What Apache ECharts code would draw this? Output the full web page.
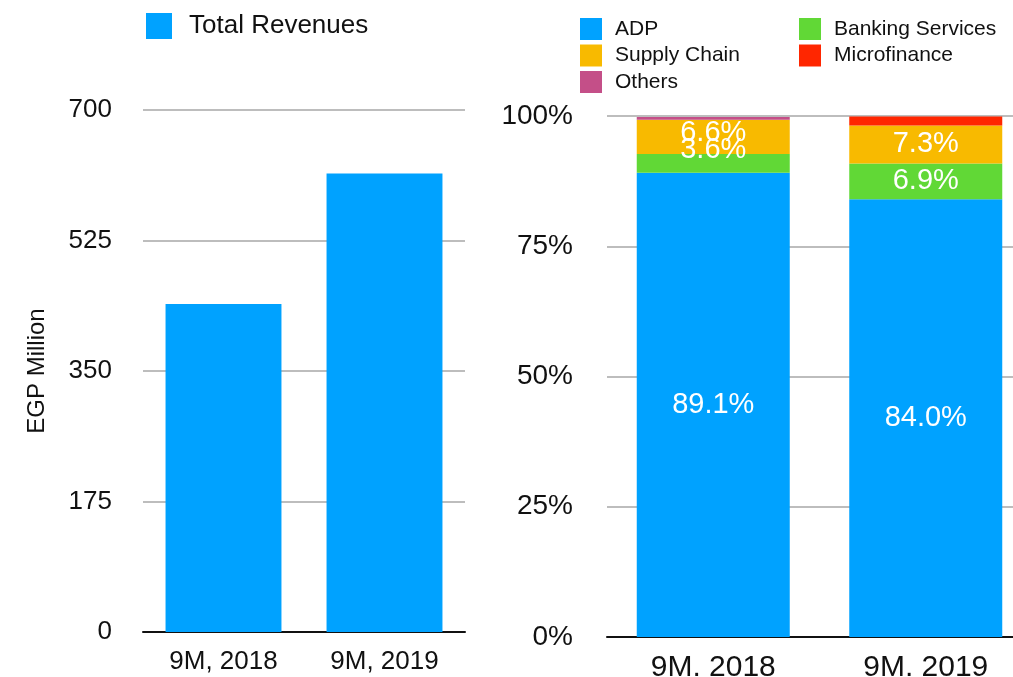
<!DOCTYPE html>
<html lang="en">
<head>
    <meta charset="UTF-8">
    <title>Revenues</title>
    <script src="https://cdn.jsdelivr.net/npm/echarts@6/dist/echarts.min.js"></script>
    <style>
        html, body { margin: 0; padding: 0; background: #fff; }
        #chart { width: 1013px; height: 677px; }
    </style>
</head>
<body>
<div id="chart"></div>
<script>
    // left chart
    var periodsLeft = ['9M, 2018', '9M, 2019'];
    var totalRevenues = [440, 615];
    var revTicks = [0, 175, 350, 525, 700];

    // right chart (share of revenues, %)
    var periodsRight = ['9M. 2018', '9M. 2019'];
    var adp = [89.1, 84.0];
    var banking = [3.6, 6.9];
    var supplyChain = [6.6, 7.3];
    var microfinance = [0, 1.7];
    var others = [0.5, 0];

    var font = 'Liberation Sans';
    var grey = '#bdbdbd';

    function pctLabel() {
        return {
            show: true,
            position: 'inside',
            color: '#fff',
            fontFamily: font,
            fontSize: 29,
            formatter: function (p) { return p.value.toFixed(1) + '%'; }
        };
    }

    // the 2018 labels overlap in the original, nudge them the same way
    function nudge(dy) {
        return function (p) {
            return p.dataIndex === 0 ? { dy: dy } : {};
        };
    }

    var legendText = function (size, pad) {
        return { fontSize: size, color: '#111', fontFamily: font, padding: [0, 0, 0, pad] };
    };

    var myChart = echarts.init(document.getElementById('chart'));
    var option = {
        animation: false,
        textStyle: { fontFamily: font },
        legend: [
            {
                left: 141, top: 8,
                itemWidth: 26, itemHeight: 26,
                icon: 'rect',
                textStyle: legendText(26, 12),
                data: ['Total Revenues']
            },
            {
                left: 575, top: 13,
                orient: 'vertical',
                itemWidth: 22, itemHeight: 22, itemGap: 4.5,
                icon: 'rect',
                textStyle: legendText(21, 8),
                data: ['ADP', 'Supply Chain', 'Others']
            },
            {
                left: 794, top: 13,
                orient: 'vertical',
                itemWidth: 22, itemHeight: 22, itemGap: 4.5,
                icon: 'rect',
                textStyle: legendText(21, 8),
                data: ['Banking Services', 'Microfinance']
            }
        ],
        grid: [
            { left: 143, right: 548, top: 110, bottom: 45, outerBoundsMode: 'none' },
            { left: 607, width: 425, top: 116, bottom: 40, outerBoundsMode: 'none' }
        ],
        xAxis: [
            {
                type: 'category', gridIndex: 0, data: periodsLeft,
                axisTick: { show: false },
                axisLine: { lineStyle: { color: '#111', width: 2 } },
                axisLabel: { fontSize: 26, color: '#111', margin: 17, fontFamily: font }
            },
            {
                type: 'category', gridIndex: 1, data: periodsRight,
                axisTick: { show: false },
                axisLine: { lineStyle: { color: '#111', width: 2 } },
                axisLabel: { fontSize: 30, color: '#111', margin: 16, fontFamily: font }
            }
        ],
        yAxis: [
            {
                type: 'value', gridIndex: 0,
                min: revTicks[0], max: revTicks[revTicks.length - 1], interval: 175,
                name: 'EGP Million', nameLocation: 'middle', nameGap: 94, nameRotate: 90,
                nameTextStyle: { fontSize: 24, color: '#111', fontFamily: font },
                axisLine: { show: false }, axisTick: { show: false },
                axisLabel: { fontSize: 26, color: '#111', margin: 31, fontFamily: font },
                splitLine: { lineStyle: { color: grey, width: 2 } }
            },
            {
                type: 'value', gridIndex: 1, min: 0, max: 100, interval: 25,
                axisLine: { show: false }, axisTick: { show: false },
                axisLabel: { fontSize: 28, color: '#111', margin: 34, fontFamily: font,
                    formatter: '{value}%' },
                splitLine: { lineStyle: { color: grey, width: 2 } }
            }
        ],
        series: [
            {
                name: 'Total Revenues', type: 'bar', xAxisIndex: 0, yAxisIndex: 0,
                data: totalRevenues, barWidth: '72%',
                itemStyle: { color: '#00A2FF' }
            },
            {
                name: 'ADP', type: 'bar', stack: 'mix', xAxisIndex: 1, yAxisIndex: 1,
                data: adp, barWidth: '72%',
                itemStyle: { color: '#00A2FF' },
                label: pctLabel()
            },
            {
                name: 'Banking Services', type: 'bar', stack: 'mix', xAxisIndex: 1, yAxisIndex: 1,
                data: banking, barWidth: '72%',
                itemStyle: { color: '#61D836' },
                label: pctLabel(),
                labelLayout: nudge(-13)
            },
            {
                name: 'Supply Chain', type: 'bar', stack: 'mix', xAxisIndex: 1, yAxisIndex: 1,
                data: supplyChain, barWidth: '72%',
                itemStyle: { color: '#F8BA00' },
                label: pctLabel(),
                labelLayout: nudge(-4)
            },
            {
                name: 'Microfinance', type: 'bar', stack: 'mix', xAxisIndex: 1, yAxisIndex: 1,
                data: microfinance, barWidth: '72%',
                itemStyle: { color: '#FF2600' }
            },
            {
                name: 'Others', type: 'bar', stack: 'mix', xAxisIndex: 1, yAxisIndex: 1,
                data: others, barWidth: '72%',
                itemStyle: { color: '#C44F88' }
            }
        ]
    };
    myChart.setOption(option);
</script>
</body>
</html>
